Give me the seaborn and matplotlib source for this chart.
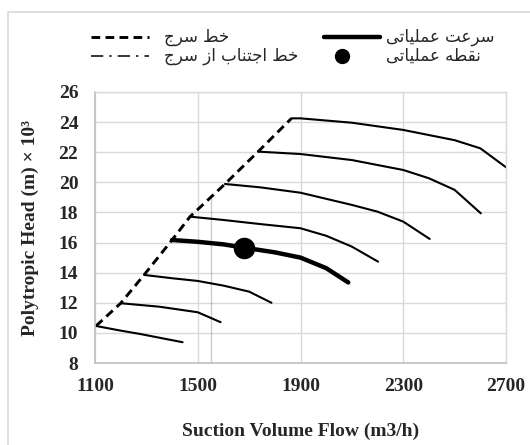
import matplotlib
matplotlib.use("Agg")
import matplotlib.pyplot as plt
from matplotlib.lines import Line2D
from matplotlib.patches import Rectangle
import seaborn as sns

# ---------------- data ----------------
x_ticks = [1100, 1500, 1900, 2300, 2700]
y_ticks = [8, 10, 12, 14, 16, 18, 20, 22, 24, 26]

c1_x = [1104, 1200, 1275, 1441]
c1_y = [10.46, 10.15, 9.93, 9.38]
c2_x = [1200, 1350, 1500, 1589]
c2_y = [11.97, 11.74, 11.37, 10.71]
c3_x = [1291, 1400, 1500, 1600, 1700, 1787]
c3_y = [13.85, 13.63, 13.45, 13.14, 12.74, 12.0]
op_x = [1400, 1500, 1600, 1681, 1800, 1900, 2000, 2086]      # operating speed
op_y = [16.17, 16.05, 15.88, 15.66, 15.35, 15.0, 14.3, 13.35]
c5_x = [1470, 1600, 1742, 1900, 2000, 2100, 2202]
c5_y = [17.72, 17.5, 17.23, 16.95, 16.45, 15.73, 14.73]
c6_x = [1606, 1742, 1900, 2100, 2200, 2300, 2403]
c6_y = [19.89, 19.67, 19.31, 18.5, 18.05, 17.39, 16.24]
c7_x = [1735, 1900, 2100, 2300, 2400, 2500, 2602]
c7_y = [22.04, 21.88, 21.48, 20.82, 20.27, 19.5, 17.94]
c8_x = [1865, 1900, 2100, 2300, 2500, 2600, 2700]
c8_y = [24.25, 24.25, 23.96, 23.48, 22.8, 22.26, 21.0]

surge_x = [1104, 1200, 1291, 1400, 1470, 1606, 1735, 1865]
surge_y = [10.46, 11.97, 13.85, 16.17, 17.72, 19.89, 22.04, 24.25]
avoid_x = [1550, 1550]
avoid_y = [8, 19.05]
point_x = [1681]
point_y = [15.66]

lbl_speed = "سرعت عملیاتی"
lbl_point = "نقطه عملیاتی"
lbl_surge = "خط سرج"
lbl_avoid = "خط اجتناب از سرج"
x_label = "Suction Volume Flow (m3/h)"
y_label = "Polytropic Head (m) × 10³"

# ---------------- minimal Arabic/Persian shaping ----------------
FORMS = {
    "ا": ("\uFE8D", "\uFE8E", None, None),
    "ب": ("\uFE8F", "\uFE90", "\uFE91", "\uFE92"),
    "ت": ("\uFE95", "\uFE96", "\uFE97", "\uFE98"),
    "ج": ("\uFE9D", "\uFE9E", "\uFE9F", "\uFEA0"),
    "خ": ("\uFEA5", "\uFEA6", "\uFEA7", "\uFEA8"),
    "ر": ("\uFEAD", "\uFEAE", None, None),
    "ز": ("\uFEAF", "\uFEB0", None, None),
    "س": ("\uFEB1", "\uFEB2", "\uFEB3", "\uFEB4"),
    "ط": ("\uFEC1", "\uFEC2", "\uFEC3", "\uFEC4"),
    "ع": ("\uFEC9", "\uFECA", "\uFECB", "\uFECC"),
    "ق": ("\uFED5", "\uFED6", "\uFED7", "\uFED8"),
    "ل": ("\uFEDD", "\uFEDE", "\uFEDF", "\uFEE0"),
    "م": ("\uFEE1", "\uFEE2", "\uFEE3", "\uFEE4"),
    "ن": ("\uFEE5", "\uFEE6", "\uFEE7", "\uFEE8"),
    "ه": ("\uFEE9", "\uFEEA", "\uFEEB", "\uFEEC"),
    "ی": ("\uFBFC", "\uFBFD", "\uFBFE", "\uFBFF"),
}


def shape(text):
    out = []
    for i, ch in enumerate(text):
        if ch not in FORMS:
            out.append(ch)
            continue
        prev = text[i - 1] if i > 0 else None
        nxt = text[i + 1] if i + 1 < len(text) else None
        jp = prev in FORMS and FORMS[prev][2] is not None
        jn = FORMS[ch][2] is not None and nxt in FORMS
        iso, fin, ini, med = FORMS[ch]
        if jp and jn:
            out.append(med)
        elif jp:
            out.append(fin)
        elif jn:
            out.append(ini)
        else:
            out.append(iso)
    return "".join(out)[::-1]


# ---------------- figure ----------------
sns.set_theme(style="white")
plt.rcParams["font.family"] = ["Liberation Serif", "DejaVu Sans"]

fig = plt.figure(figsize=(5.30, 4.45), dpi=100)
ax = fig.add_axes([95 / 530, 1 - 363 / 445, 411 / 530, 271 / 445])

thin = dict(color="black", linewidth=1.5, sort=False, legend=False, ax=ax)
for cx, cy in [(c1_x, c1_y), (c2_x, c2_y), (c3_x, c3_y), (c5_x, c5_y),
               (c6_x, c6_y), (c7_x, c7_y), (c8_x, c8_y)]:
    sns.lineplot(x=cx, y=cy, **thin)

sns.lineplot(x=op_x, y=op_y, color="black", linewidth=3.2, sort=False,
             legend=False, ax=ax)
sns.lineplot(x=surge_x, y=surge_y, color="black", linewidth=2.1,
             sort=False, legend=False, ax=ax)
ax.lines[-1].set_linestyle((0, (3.0, 1.8)))
sns.lineplot(x=avoid_x, y=avoid_y, color="black", linewidth=1.1,
             sort=False, legend=False, ax=ax)
ax.lines[-1].set_linestyle((0, (8, 4, 1.5, 4)))
sns.scatterplot(x=point_x, y=point_y, color="black", s=240, linewidth=0,
                ax=ax, zorder=5)

ax.set_xlim(1100, 2700)
ax.set_ylim(8, 26)
ax.set_xticks(x_ticks)
ax.set_yticks(y_ticks)
ax.grid(True, color="#d9d9d9", linewidth=1.0)
ax.set_axisbelow(True)
for s in ["top", "right"]:
    ax.spines[s].set_color("#d9d9d9")
    ax.spines[s].set_linewidth(1.0)
for s in ["left", "bottom"]:
    ax.spines[s].set_color("#bfbfbf")
    ax.spines[s].set_linewidth(1.2)
ax.tick_params(length=0, labelsize=14)
ax.tick_params(axis="x", pad=11)
ax.tick_params(axis="y", pad=12)
for t in ax.get_xticklabels() + ax.get_yticklabels():
    t.set_fontweight("bold")

ax.set_xlabel(x_label, fontsize=14, fontweight="bold")
ax.set_ylabel(y_label, fontsize=14, fontweight="bold")
ax.xaxis.label.set_va("center")
ax.yaxis.label.set_va("center")
ax.xaxis.set_label_coords(0.5, -(431 - 363) / 271)
ax.yaxis.set_label_coords(-(95 - 30) / 411, 0.5)

# chart-area border (Excel style)
fig.add_artist(Rectangle((8 / 530, -0.5), 2.0, 0.5 + (1 - 12 / 445),
                         transform=fig.transFigure, fill=False,
                         edgecolor="#d9d9d9", linewidth=1.2))


# legend (drawn manually, RTL labels)
def fy(py):
    return 1 - py / 445


def fx(px):
    return px / 530


r1, r2 = 37, 56
fig.add_artist(Line2D([fx(91), fx(149)], [fy(r1), fy(r1)], color="black",
                      linewidth=2.1, linestyle=(0, (3.0, 1.8)),
                      transform=fig.transFigure))
fig.add_artist(Line2D([fx(91), fx(149)], [fy(r2), fy(r2)], color="black",
                      linewidth=1.1, linestyle=(0, (8, 4, 1.5, 4)),
                      transform=fig.transFigure))
fig.add_artist(Line2D([fx(324), fx(380)], [fy(r1), fy(r1)], color="black",
                      linewidth=3.2, transform=fig.transFigure))
fig.add_artist(Line2D([fx(342)], [fy(r2)], color="black", marker="o",
                      markersize=10, linestyle="none",
                      transform=fig.transFigure))

arab = dict(family=["DejaVu Sans"], fontsize=12, va="center", ha="left")
fig.text(fx(164), fy(r1), shape(lbl_surge), **arab)
fig.text(fx(164), fy(r2), shape(lbl_avoid), **arab)
fig.text(fx(386), fy(r1), shape(lbl_speed), **arab)
fig.text(fx(386), fy(r2), shape(lbl_point), **arab)

fig.savefig("out.png", dpi=100)
